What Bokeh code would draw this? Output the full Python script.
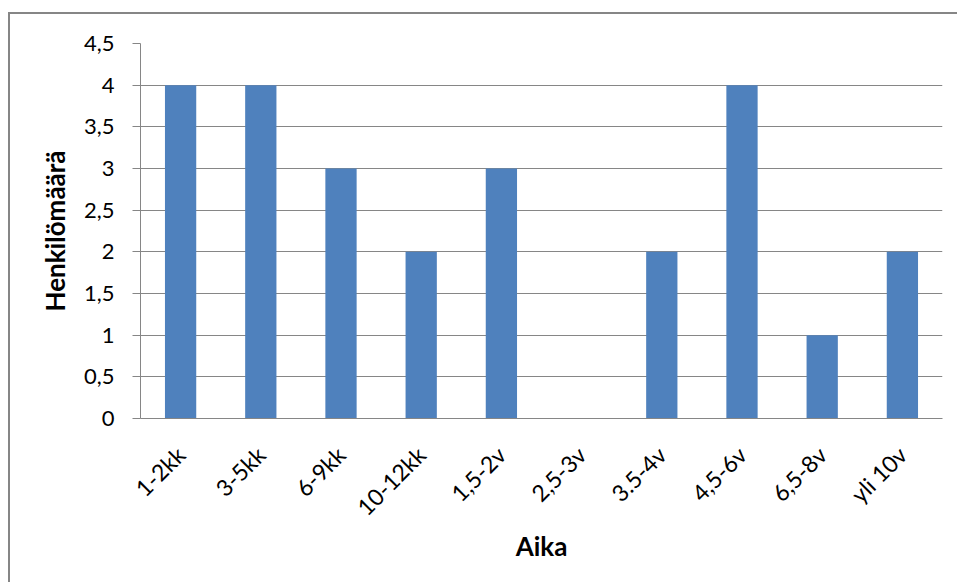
from bokeh.plotting import figure
from bokeh.embed import file_html
from bokeh.resources import INLINE
from bokeh.models import FixedTicker, CustomJSTickFormatter
import math

categories = ["1-2kk", "3-5kk", "6-9kk", "10-12kk", "1,5-2v", "2,5-3v", "3.5-4v", "4,5-6v", "6,5-8v", "yli 10v"]
values = [4, 4, 3, 2, 3, 0, 2, 4, 1, 2]
y_ticks = [0, 0.5, 1, 1.5, 2, 2.5, 3, 3.5, 4, 4.5]
x_title = "Aika"
y_title = "Henkilömäärä"

FONT = "Lato"
GRAY = "#868686"

p = figure(x_range=categories, y_range=(0, 4.5), width=949, height=570,
           output_backend="svg", toolbar_location=None,
           min_border_left=130, min_border_right=17, min_border_top=29, min_border_bottom=166,
           margin=(12, 0, 0, 8),
           styles={"border-left": "2px solid #868686", "border-top": "2px solid #868686"})

p.vbar(x=categories, top=values, width=0.39, fill_color="#4F81BD", line_color=None)

p.outline_line_color = None
p.background_fill_color = "white"
p.border_fill_color = "white"

p.xgrid.grid_line_color = None
p.ygrid.grid_line_color = GRAY
p.ygrid.grid_line_width = 1
p.yaxis.ticker = FixedTicker(ticks=y_ticks)
p.yaxis.formatter = CustomJSTickFormatter(code="return String(tick).replace('.', ',');")

for ax in (p.xaxis, p.yaxis):
    ax.axis_line_color = GRAY
    ax.major_label_text_font = FONT
    ax.major_label_text_color = "#000000"
    ax.axis_label_text_font = FONT
    ax.axis_label_text_font_size = "26px"
    ax.axis_label_text_font_style = "bold"
    ax.axis_label_text_color = "#000000"
    ax.minor_tick_line_color = None

p.yaxis.major_label_text_font_size = "22px"
p.xaxis.major_label_text_font_size = "23px"

p.yaxis.major_tick_line_color = GRAY
p.yaxis.major_tick_in = 0
p.yaxis.major_tick_out = 8
p.yaxis.major_label_standoff = 18
p.yaxis.axis_label = y_title
p.yaxis.axis_label_standoff = 10

p.xaxis.major_tick_line_color = None
p.xaxis.major_label_orientation = math.pi / 4
p.xaxis.major_label_standoff = 26
p.xaxis.axis_label = x_title
p.xaxis.axis_label_standoff = -4

open("out.html", "w").write(file_html(p, INLINE))
